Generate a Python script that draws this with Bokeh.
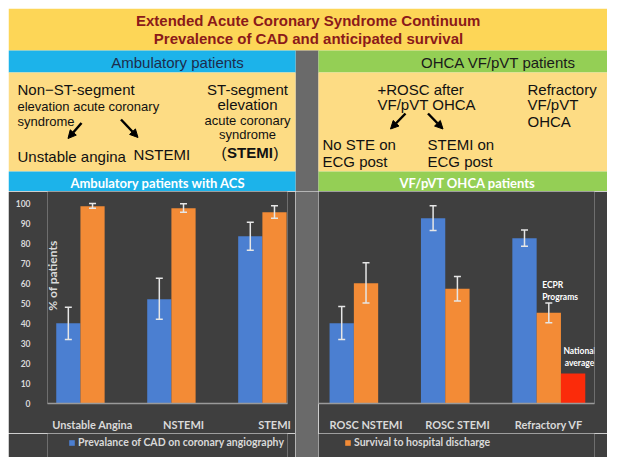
from bokeh.plotting import figure
from bokeh.models import (Range1d, FixedTicker, Whisker, TeeHead, ColumnDataSource,
                          Legend, LegendItem, Label, Arrow, NormalHead)
from bokeh.layouts import column, row
from bokeh.embed import file_html
from bokeh.resources import INLINE
from bokeh.core.properties import value
import math

# ---------------- data ----------------
acs_categories = ["Unstable Angina", "NSTEMI", "STEMI"]
acs_cad = [40, 52, 83.5]
acs_cad_low = [32, 42, 76.5]
acs_cad_high = [48, 62.5, 90.5]
acs_survival = [98.5, 97.5, 95.5]
acs_survival_low = [97.5, 95.5, 92.5]
acs_survival_high = [99.8, 99.7, 98.7]

ohca_categories = ["ROSC NSTEMI", "ROSC STEMI", "Refractory VF"]
ohca_cad = [40, 92.5, 82.5]
ohca_cad_low = [32, 86.3, 78.5]
ohca_cad_high = [48.4, 98.7, 86.6]
ohca_survival = [60, 57.3, 45.3]
ohca_survival_low = [50.2, 51.1, 40.3]
ohca_survival_high = [70.2, 63.4, 50.2]
national_average_category = "Refractory VF"
national_average = [15]

y_ticks = [0, 10, 20, 30, 40, 50, 60, 70, 80, 90, 100]
legend_cad = "Prevalance of CAD on coronary angiography"
legend_survival = "Survival to hospital discharge"

# ---------------- style ----------------
BAR_W = 0.266
BG = "#3f3f3f"
BLUE = "#4b7fd1"
ORANGE = "#f38b36"
RED = "#fb2b0a"
TXT = "#d9d9d9"
ERR = "#e6e6e6"
FONT = "Lato"
SANS = "Liberation Sans"
TITLE_YELLOW = "#fdd657"
TEXT_YELLOW = "#fddc84"
BAND_BLUE = "#1cb3ea"
BAND_GREEN = "#94cf55"
SEP_GRAY = "#6a6a6a"
CHART_H = 242
STRIP_H = 24


def no_align(p):
    if "frame_align" in p.properties():
        p.frame_align = False


def make_chart(cats, cad, cad_lo, cad_hi, surv, surv_lo, surv_hi, width,
               x_start, x_end, border_left, border_right, show_y):
    idx = list(range(len(cats)))
    p = figure(width=width, height=CHART_H, x_range=Range1d(x_start, x_end),
               y_range=Range1d(0, 105.8), output_backend="svg",
               toolbar_location=None,
               y_axis_location="left" if show_y else None,
               min_border_left=border_left, min_border_right=border_right,
               min_border_top=0, min_border_bottom=24,
               background_fill_color=BG, border_fill_color=BG,
               outline_line_color=None)
    no_align(p)
    src_cad = ColumnDataSource(dict(x=[i - BAR_W for i in idx], top=cad, lo=cad_lo, hi=cad_hi))
    src_surv = ColumnDataSource(dict(x=idx, top=surv, lo=surv_lo, hi=surv_hi))
    p.vbar(x="x", top="top", width=BAR_W, source=src_cad, fill_color=BLUE, line_color=None)
    p.vbar(x="x", top="top", width=BAR_W, source=src_surv, fill_color=ORANGE, line_color=None)
    for src in (src_cad, src_surv):
        w = Whisker(source=src, base="x", upper="hi", lower="lo", dimension="height",
                    line_color=ERR, line_width=1.5, level="overlay",
                    upper_head=TeeHead(size=7, line_color=ERR, line_width=1.5),
                    lower_head=TeeHead(size=7, line_color=ERR, line_width=1.5))
        p.add_layout(w)

    p.xgrid.visible = False
    p.ygrid.visible = False
    ax = p.xaxis[0]
    ax.ticker = FixedTicker(ticks=idx)
    ax.major_label_overrides = {i: c for i, c in enumerate(cats)}
    ax.axis_line_color = "#9a9a9a"
    ax.axis_line_width = 1.5
    ax.major_tick_line_color = None
    ax.minor_tick_line_color = None
    ax.major_label_text_font = FONT
    ax.major_label_text_font_style = "bold"
    ax.major_label_text_font_size = "11px"
    ax.major_label_text_color = TXT
    ax.major_label_standoff = 8
    if show_y:
        ay = p.yaxis[0]
        ay.ticker = FixedTicker(ticks=y_ticks)
        ay.axis_line_color = None
        ay.major_tick_line_color = None
        ay.minor_tick_line_color = None
        ay.major_label_text_font = FONT
        ay.major_label_text_font_style = "bold"
        ay.major_label_text_font_size = "8.5px"
        ay.major_label_text_color = TXT
        ay.major_label_standoff = 11
    return p, src_cad, src_surv


def make_legend_strip(chart, src, width, border_left, border_right, label, color, x_off):
    # legend row under a chart; its key glyph uses the chart's own data source,
    # kept out of this strip's visible y-range so only the legend shows
    s = figure(width=width, height=STRIP_H, x_range=chart.x_range,
               y_range=Range1d(1000, 1001), output_backend="svg",
               toolbar_location=None, x_axis_location=None, y_axis_location=None,
               min_border_left=border_left, min_border_right=border_right,
               min_border_top=0, min_border_bottom=0,
               outline_line_color=None, background_fill_color=BG,
               border_fill_color=BG)
    no_align(s)
    s.xgrid.visible = False
    s.ygrid.visible = False
    key = s.vbar(x="x", top="top", width=BAR_W, source=src, fill_color=color, line_color=None)
    legend = Legend(items=[LegendItem(label=label, renderers=[key])],
                    location=(x_off, 9), orientation="horizontal",
                    background_fill_alpha=0, border_line_color=None,
                    padding=0, margin=0, glyph_width=7, glyph_height=7,
                    label_height=12, label_standoff=3,
                    label_text_font=FONT, label_text_font_style="bold",
                    label_text_font_size="10.5px", label_text_color=TXT)
    s.add_layout(legend)
    return s


left, left_cad_src, _ = make_chart(acs_categories, acs_cad, acs_cad_low, acs_cad_high,
                                   acs_survival, acs_survival_low, acs_survival_high,
                                   287, -0.495, 2.143, 39, 8, True)
left.add_layout(Label(x=-0.435, y=63.8, text="% of patients", angle=math.pi / 2,
                      text_align="center", text_baseline="middle",
                      text_font=FONT, text_font_style="bold",
                      text_font_size="12px", text_color=TXT))
left_strip = make_legend_strip(left, left_cad_src, 287, 39, 8, legend_cad, BLUE, 21)

right, _, right_surv_src = make_chart(ohca_categories, ohca_cad, ohca_cad_low, ohca_cad_high,
                                      ohca_survival, ohca_survival_low, ohca_survival_high,
                                      289, -0.52, 2.5, 0, 13, False)
na_idx = ohca_categories.index(national_average_category)
right.vbar(x=[na_idx + BAR_W], top=national_average, width=BAR_W,
           fill_color=RED, line_color=None)
right.add_layout(Label(x=na_idx - 0.073, y=50.5, text="ECPR\nPrograms",
                       text_align="left", text_baseline="bottom",
                       text_font=FONT, text_font_style="bold",
                       text_font_size="8.5px", text_color="white"))
right.add_layout(Label(x=na_idx + 0.336, y=17.5, text="National\naverage",
                       text_align="center", text_baseline="bottom",
                       text_font=FONT, text_font_style="bold",
                       text_font_size="8.5px", text_color="white"))
right_strip = make_legend_strip(right, right_surv_src, 289, 0, 13, legend_survival, ORANGE, 26)

# separator strip between the two charts
sep = figure(width=23, height=CHART_H + STRIP_H, x_range=Range1d(0, 1), y_range=Range1d(0, 1),
             output_backend="svg", toolbar_location=None,
             x_axis_location=None, y_axis_location=None, min_border=0,
             outline_line_color=None, background_fill_color=SEP_GRAY,
             border_fill_color=SEP_GRAY)
no_align(sep)
sep.xgrid.visible = False
sep.ygrid.visible = False
sep.scatter(x=[0.5], y=[0.5], size=0, alpha=0)

# ---------------- header ----------------
h = figure(width=599, height=183, x_range=Range1d(8, 607), y_range=Range1d(191, 8),
           output_backend="svg", toolbar_location=None,
           x_axis_location=None, y_axis_location=None, min_border=0,
           outline_line_color=None, background_fill_color="white",
           border_fill_color="white")
no_align(h)
h.xgrid.visible = False
h.ygrid.visible = False

boxes_l = [8, 295, 8, 318, 8, 318, 318, 8]
boxes_r = [607, 318, 295, 607, 295, 607, 607, 295]
boxes_t = [8, 50, 50, 50, 72, 72, 171, 171]
boxes_b = [50, 191, 72, 72, 171, 171, 191, 191]
boxes_c = [TITLE_YELLOW, SEP_GRAY, BAND_BLUE, BAND_GREEN, TEXT_YELLOW, TEXT_YELLOW,
           BAND_GREEN, BAND_BLUE]
h.quad(left=boxes_l, right=boxes_r, top=boxes_t, bottom=boxes_b,
       fill_color=boxes_c, line_color=None)


def htext(x, y, t, size, align="left", color="#111111", bold=False, font=SANS):
    h.text(x=[x], y=[y], text=[t], text_font=value(font), text_font_size=size,
           text_align=align, text_baseline="middle", text_color=color,
           text_font_style="bold" if bold else "normal")


htext(308, 20, "Extended Acute Coronary Syndrome Continuum", "15px", "center", "#8b1a1a", True)
htext(308, 38, "Prevalence of CAD and anticipated survival", "15px", "center", "#8b1a1a", True)
htext(177, 61.5, "Ambulatory patients", "15px", "center", "#1c2c4c")
htext(498, 61.5, "OHCA VF/pVT patients", "15px", "center", "#1a1a1a")

htext(17, 88.5, "Non\u2212ST-segment", "15px")
htext(17, 105.5, "elevation acute coronary", "13px")
htext(17, 120.5, "syndrome", "13px")
htext(17, 156, "Unstable angina", "15px")
htext(133, 153.5, "NSTEMI", "15px")
htext(247, 88.5, "ST-segment", "15px", "center")
htext(247, 103.5, "elevation", "15px", "center")
htext(247, 119.5, "acute coronary", "13px", "center")
htext(247, 134, "syndrome", "13px", "center")
htext(226, 152, "(", "15px", "right")
htext(249.5, 152, "STEMI", "15px", "center", bold=True)
htext(273, 152, ")", "15px", "left")

htext(377, 88.5, "+ROSC  after", "15px")
htext(377, 104, "VF/pVT OHCA", "15px")
htext(322, 143.5, "No STE on", "15px")
htext(322, 160.5, "ECG  post", "15px")
htext(427, 143.5, "STEMI on", "15px")
htext(427, 160.5, "ECG post", "15px")
htext(527, 88.5, "Refractory", "15px")
htext(527, 104, "VF/pVT", "15px")
htext(527, 121, "OHCA", "15px")

htext(157.5, 182, "Ambulatory patients with ACS", "13px", "center", "white", True, FONT)
htext(467, 182, "VF/pVT OHCA patients", "13px", "center", "white", True, FONT)

arrows = [(81, 122.5, 67.5, 138), (120.5, 119, 137.5, 137),
          (405, 113, 390, 128.5), (427.5, 113, 442.5, 128.5)]
for xs, ys, xe, ye in arrows:
    h.add_layout(Arrow(end=NormalHead(size=8, fill_color="black", line_color="black"),
                       x_start=xs, y_start=ys, x_end=xe, y_end=ye,
                       line_width=2.5, line_color="black"))

layout = column(h,
                row(column(left, left_strip, spacing=0), sep,
                    column(right, right_strip, spacing=0), spacing=0),
                spacing=0, margin=(8, 0, 0, 8))

with open("out.html", "w") as f:
    f.write(file_html(layout, INLINE, title="Extended ACS continuum"))
